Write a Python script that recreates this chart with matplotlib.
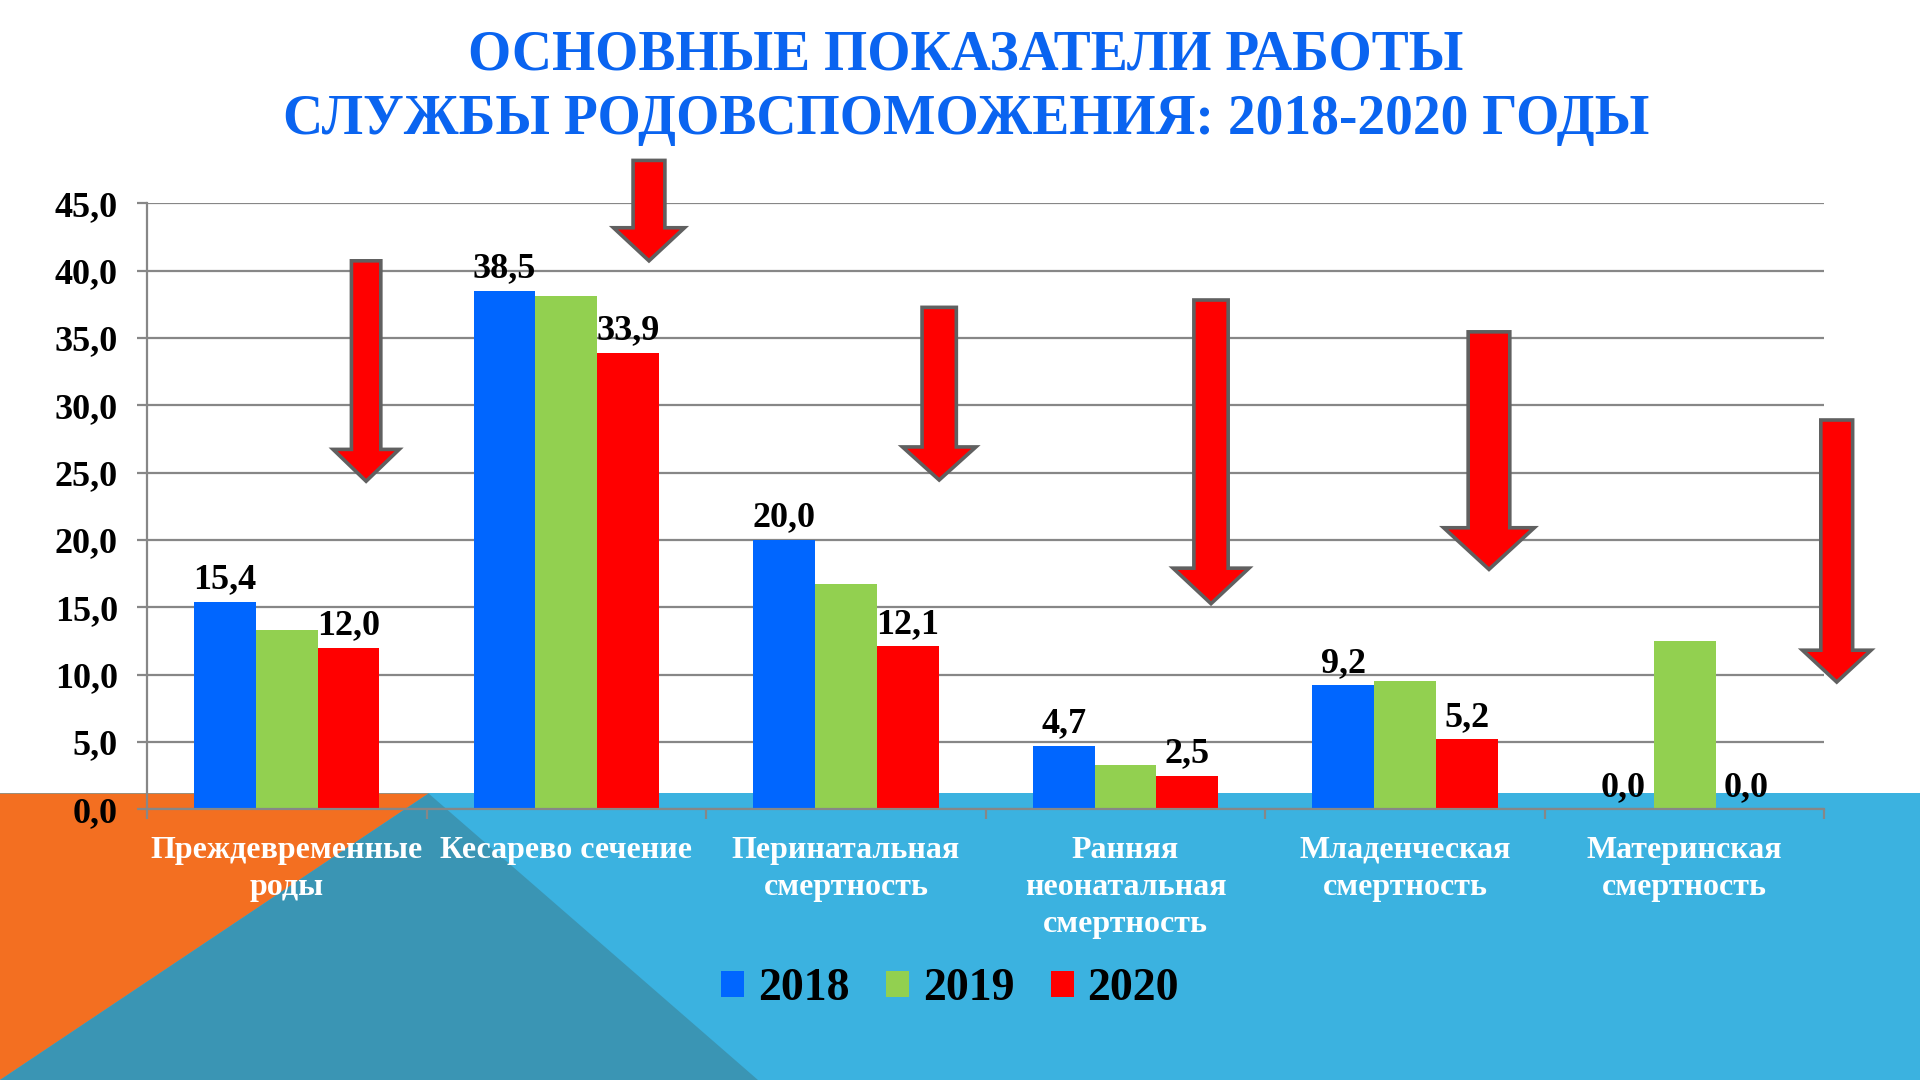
import matplotlib
matplotlib.use("Agg")
import matplotlib.pyplot as plt
from matplotlib.patches import Polygon, Rectangle, Patch
from matplotlib.ticker import FuncFormatter
import numpy as np

# ---- data ----
categories = ["Преждевременные\nроды", "Кесарево сечение", "Перинатальная\nсмертность",
              "Ранняя\nнеонатальная\nсмертность", "Младенческая\nсмертность", "Материнская\nсмертность"]
years = ["2018", "2019", "2020"]
values_2018 = [15.4, 38.5, 20.0, 4.7, 9.2, 0.0]
values_2019 = [13.3, 38.1, 16.7, 3.3, 9.5, 12.5]
values_2020 = [12.0, 33.9, 12.1, 2.5, 5.2, 0.0]
title_lines = ["ОСНОВНЫЕ ПОКАЗАТЕЛИ РАБОТЫ", "СЛУЖБЫ РОДОВСПОМОЖЕНИЯ: 2018-2020 ГОДЫ"]

# ---- styles ----
C_BLUE = "#0066FF"
C_GREEN = "#92D050"
C_RED = "#FF0000"
C_TITLE = "#0A64F0"
C_GRID = "#878787"
FONT = "Liberation Serif"

RW, RH = 1568.0, 882.0  # reference layout units


def fx(x):
    return x / RW


def fy(y):
    return 1 - y / RH


fig = plt.figure(figsize=(19.2, 10.8), dpi=100)
fig.patch.set_facecolor("white")

# background band decoration
fig.patches.append(Rectangle((0, 0), 1, fy(648), transform=fig.transFigure,
                             facecolor="#3BB2E0", edgecolor="none", zorder=0))
fig.patches.append(Polygon([(fx(0), fy(648)), (fx(350), fy(648)), (fx(0), fy(882))],
                           closed=True, transform=fig.transFigure,
                           facecolor="#F36F21", edgecolor="none", zorder=0))
fig.patches.append(Polygon([(fx(350), fy(648)), (fx(619), fy(882)), (fx(0), fy(882))],
                           closed=True, transform=fig.transFigure,
                           facecolor="#3A95B4", edgecolor="none", zorder=0))

ax = fig.add_axes([fx(120), fy(661), (1490 - 120) / RW, (661 - 166) / RH])
ax.set_facecolor("none")
ax.patch.set_alpha(0)
ax.set_zorder(2)

x = np.arange(len(categories))
w = 0.221
ax.bar(x - w, values_2018, w, color=C_BLUE, zorder=3, label=years[0])
ax.bar(x, values_2019, w, color=C_GREEN, zorder=3, label=years[1])
ax.bar(x + w, values_2020, w, color=C_RED, zorder=3, label=years[2])

ax.set_xlim(-0.5, len(categories) - 0.5)
ax.set_ylim(0, 45)
ax.set_yticks(np.arange(0, 46, 5))
ax.yaxis.set_major_formatter(FuncFormatter(lambda v, p: f"{v:.1f}".replace(".", ",")))
ax.grid(axis="y", color=C_GRID, linewidth=1.6, zorder=1)
ax.set_axisbelow(True)

for s in ["top", "right"]:
    ax.spines[s].set_visible(False)
for s in ["left", "bottom"]:
    ax.spines[s].set_color(C_GRID)
    ax.spines[s].set_linewidth(1.6)
    ax.spines[s].set_zorder(4)

ax.tick_params(axis="y", colors=C_GRID, length=7, width=1.6, pad=14, labelcolor="black")
for t in ax.get_yticklabels():
    t.set_fontfamily(FONT)
    t.set_fontweight("bold")
    t.set_fontsize(26)

ax.set_xticks(x)
ax.set_xticklabels(categories, fontfamily=FONT, fontweight="bold", fontsize=23,
                   color="white", linespacing=1.38)
ax.set_xticks(np.arange(-0.5, len(categories), 1), minor=True)
ax.tick_params(axis="x", which="major", length=0, pad=19)
ax.tick_params(axis="x", which="minor", length=7, width=1.6, colors=C_GRID)


def fmt(v):
    return f"{v:.1f}".replace(".", ",")


for xi, v in zip(x, values_2018):
    ax.annotate(fmt(v), (xi - w, v), xytext=(0, 4), textcoords="offset points",
                ha="center", va="bottom", fontfamily=FONT, fontweight="bold",
                fontsize=26, color="black", zorder=5)
for xi, v in zip(x, values_2020):
    ax.annotate(fmt(v), (xi + w, v), xytext=(0, 4), textcoords="offset points",
                ha="center", va="bottom", fontfamily=FONT, fontweight="bold",
                fontsize=26, color="black", zorder=5)

# title
fig.text(fx(789), fy(45), title_lines[0], ha="center", va="center", fontfamily=FONT,
         fontweight="bold", fontsize=40, color=C_TITLE)
fig.text(fx(789), fy(98), title_lines[1], ha="center", va="center", fontfamily=FONT,
         fontweight="bold", fontsize=40, color=C_TITLE)

# decorative down arrows (reference layout units): cx, shaft half, head half, top, head base, tip
arrow_shapes = [
    (299, 12, 27, 213, 367, 393),
    (530, 13, 29, 131, 186, 213),
    (767, 14, 30, 251, 365, 392),
    (989, 14, 31, 245, 464, 493),
    (1216, 17, 37, 271, 431, 465),
    (1500, 13, 28, 343, 531, 557),
]
for cx, sw, hw, top, hb, tip in arrow_shapes:
    pts = [(cx - sw, top), (cx + sw, top), (cx + sw, hb), (cx + hw, hb), (cx, tip),
           (cx - hw, hb), (cx - sw, hb)]
    fig.patches.append(Polygon([(fx(a), fy(b)) for a, b in pts], closed=True,
                               transform=fig.transFigure, facecolor=C_RED,
                               edgecolor="#606060", linewidth=2.6, zorder=10))

# legend
handles = [Patch(facecolor=c, edgecolor="none") for c in (C_BLUE, C_GREEN, C_RED)]
leg = fig.legend(handles, years, loc="center", bbox_to_anchor=(fx(776), fy(808)), ncol=3,
                 frameon=False, handlelength=0.5, handleheight=0.5, handletextpad=0.3,
                 columnspacing=0.8, prop={"family": FONT, "weight": "bold", "size": 33})

fig.savefig("out.png", dpi=100)
